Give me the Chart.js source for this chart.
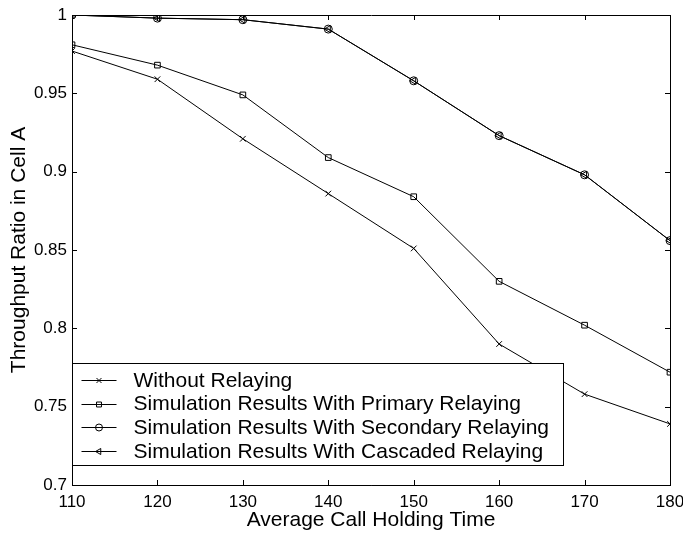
<!DOCTYPE html>
<html>
<head>
<meta charset="utf-8">
<script src="https://cdn.jsdelivr.net/npm/chart.js@4"></script>
<style>
  body { margin: 0; background: #fff; }
  #c { display: block; }
</style>
</head>
<body>
<canvas id="c" width="683" height="533"></canvas>
<script>
const holdingTimes = [110, 120, 130, 140, 150, 160, 170, 180];
const withoutRelaying = [0.977, 0.959, 0.921, 0.886, 0.851, 0.790, 0.758, 0.739];
const primaryRelaying = [0.981, 0.968, 0.949, 0.909, 0.884, 0.830, 0.802, 0.772];
const secondaryRelaying = [1.0, 0.998, 0.997, 0.991, 0.958, 0.923, 0.898, 0.856];
const cascadedRelaying = [1.0, 0.998, 0.997, 0.991, 0.958, 0.923, 0.898, 0.856];
const xTicks = [110, 120, 130, 140, 150, 160, 170, 180];
const yTicks = [0.7, 0.75, 0.8, 0.85, 0.9, 0.95, 1];

const FONT = "'Liberation Sans', Arial, Helvetica, sans-serif";

function pts(ys) {
  return ys.map((y, i) => ({ x: holdingTimes[i], y: y }));
}

function series(label, ys, style, rot) {
  return {
    label: label,
    data: pts(ys),
    borderColor: '#000',
    borderWidth: 1,
    pointStyle: style,
    pointRotation: rot || 0,
    pointRadius: 4,
    pointBorderWidth: 1,
    pointBorderColor: '#000',
    pointBackgroundColor: 'rgba(0,0,0,0)',
    fill: false,
    tension: 0
  };
}

// inward ticks and box around plot, like the original figure
const boxTicks = {
  id: 'boxTicks',
  afterDatasetsDraw(chart) {
    const { ctx, chartArea: a, scales } = chart;
    ctx.save();
    ctx.strokeStyle = '#000';
    ctx.lineWidth = 1;
    ctx.beginPath();
    ctx.rect(Math.round(a.left) + 0.5, Math.round(a.top) + 0.5,
             Math.round(a.right - a.left), Math.round(a.bottom - a.top));
    const L = 5;
    scales.x.ticks.forEach(t => {
      const px = Math.round(scales.x.getPixelForValue(t.value)) + 0.5;
      ctx.moveTo(px, a.bottom); ctx.lineTo(px, a.bottom - L);
      ctx.moveTo(px, a.top); ctx.lineTo(px, a.top + L);
    });
    scales.y.ticks.forEach(t => {
      const py = Math.round(scales.y.getPixelForValue(t.value)) + 0.5;
      ctx.moveTo(a.left, py); ctx.lineTo(a.left + L, py);
      ctx.moveTo(a.right, py); ctx.lineTo(a.right - L, py);
    });
    ctx.stroke();
    ctx.restore();
  }
};

// legend box inside the plot, lower left
const insideLegend = {
  id: 'insideLegend',
  afterDraw(chart) {
    const { ctx, chartArea: a } = chart;
    const sets = chart.data.datasets;
    ctx.save();
    ctx.font = '21px ' + FONT;
    let maxW = 0;
    sets.forEach(d => { maxW = Math.max(maxW, ctx.measureText(d.label).width); });
    const left = Math.round(a.left) + 0.5;
    const top = 363.5;
    const rowH = 23.7;
    const textX = left + 61;
    const w = Math.round(textX - left + maxW + 14);
    const h = 102;
    ctx.fillStyle = '#fff';
    ctx.fillRect(left, top, w, h);
    ctx.strokeStyle = '#000';
    ctx.lineWidth = 1;
    ctx.strokeRect(left, top, w, h);
    sets.forEach((d, i) => {
      const y = top + 16.5 + i * rowH;
      ctx.beginPath();
      ctx.moveTo(left + 9, Math.round(y) + 0.5);
      ctx.lineTo(left + 44, Math.round(y) + 0.5);
      ctx.strokeStyle = '#000';
      ctx.lineWidth = 1;
      ctx.stroke();
      ctx.fillStyle = 'rgba(0,0,0,0)';
      Chart.helpers.drawPoint(ctx, {
        pointStyle: d.pointStyle, rotation: d.pointRotation, radius: 3.5, borderWidth: 1
      }, left + 26.5, Math.round(y) + 0.5);
      ctx.fillStyle = '#000';
      ctx.textBaseline = 'middle';
      ctx.textAlign = 'left';
      ctx.fillText(d.label, textX, y + 1);
    });
    ctx.restore();
  }
};

new Chart(document.getElementById('c').getContext('2d'), {
  type: 'line',
  data: {
    datasets: [
      series('Without Relaying', withoutRelaying, 'crossRot'),
      series('Simulation Results With Primary Relaying', primaryRelaying, 'rect'),
      series('Simulation Results With Secondary Relaying', secondaryRelaying, 'circle'),
      series('Simulation Results With Cascaded Relaying', cascadedRelaying, 'triangle', -90)
    ]
  },
  options: {
    responsive: false,
    animation: false,
    layout: { padding: { top: 15, right: 13, left: 0, bottom: 0 } },
    plugins: {
      legend: { display: false },
      tooltip: { enabled: false }
    },
    scales: {
      x: {
        type: 'linear',
        min: 110,
        max: 180,
        afterBuildTicks: s => { s.ticks = xTicks.map(v => ({ value: v })); },
        afterFit: s => { s.height = 48; s.paddingLeft = 0; s.paddingRight = 0; },
        grid: { display: false, drawTicks: false },
        border: { display: true, color: '#000', width: 1 },
        ticks: { color: '#000', font: { family: FONT, size: 17 }, padding: 7, maxRotation: 0 },
        title: {
          display: true, text: 'Average Call Holding Time', color: '#000',
          font: { family: FONT, size: 21 }, padding: { top: 0, bottom: 0 }
        }
      },
      y: {
        min: 0.7,
        max: 1,
        afterBuildTicks: s => { s.ticks = yTicks.map(v => ({ value: v })); },
        afterFit: s => { s.width = 72; s.paddingTop = 0; s.paddingBottom = 0; },
        grid: { display: false, drawTicks: false },
        border: { display: true, color: '#000', width: 1 },
        ticks: {
          color: '#000', font: { family: FONT, size: 17 }, padding: 5,
          callback: v => String(Number(v.toFixed(2)))
        },
        title: {
          display: true, text: 'Throughput Ratio in Cell A', color: '#000',
          font: { family: FONT, size: 21 }, padding: { top: 7, bottom: 0 }
        }
      }
    }
  },
  plugins: [boxTicks, insideLegend]
});
</script>
</body>
</html>
